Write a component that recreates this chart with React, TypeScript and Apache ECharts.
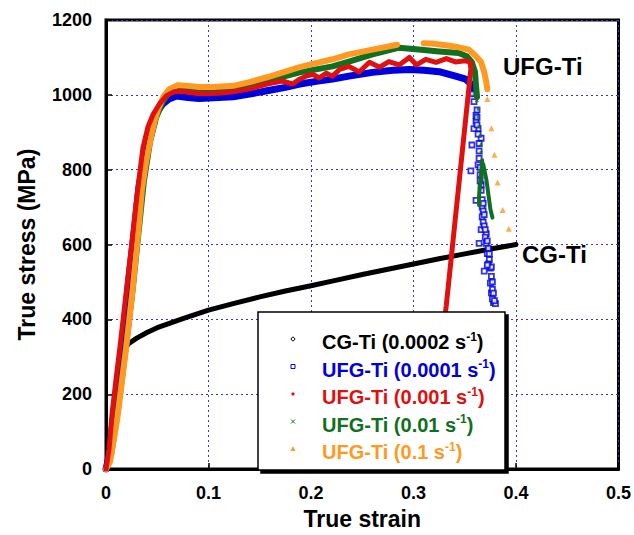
import React, { useEffect, useRef } from "react";
import * as echarts from "echarts";

// [true strain, true stress (MPa)]
const cgTi: number[][] = [
  [0, 0], [0.003, 60], [0.008, 180], [0.013, 270], [0.018, 320], [0.022, 335], [0.03, 350],
  [0.04, 365], [0.05, 378], [0.075, 402], [0.1, 425], [0.125, 443], [0.15, 460], [0.175, 476],
  [0.2, 490], [0.225, 505], [0.25, 520], [0.275, 534], [0.3, 548], [0.325, 562], [0.35, 575],
  [0.375, 588], [0.4, 600],
];

const ufg0001: number[][] = [
  [0, 0], [0.004, 45], [0.008, 130], [0.012, 230], [0.017, 360], [0.022, 500], [0.027, 620],
  [0.032, 750], [0.038, 850], [0.043, 910], [0.049, 950], [0.055, 975], [0.062, 990], [0.069, 997],
  [0.08, 993], [0.091, 990], [0.105, 992], [0.124, 995], [0.14, 1002], [0.157, 1011], [0.175, 1020],
  [0.189, 1029], [0.205, 1036], [0.221, 1042], [0.237, 1050], [0.26, 1060], [0.28, 1066],
  [0.296, 1068], [0.31, 1066], [0.325, 1062], [0.341, 1050], [0.351, 1042], [0.356, 1029], [0.358, 1005],
];
const ufg0001Tail: number[][] = [
  [0.357, 1003], [0.359, 982], [0.361, 945], [0.361, 929], [0.363, 910], [0.359, 910], [0.357, 866],
  [0.366, 884], [0.356, 797], [0.363, 813], [0.365, 787], [0.366, 760], [0.361, 718], [0.367, 700],
  [0.367, 674], [0.366, 640], [0.371, 629], [0.371, 603], [0.364, 603], [0.372, 576], [0.374, 560],
  [0.369, 529], [0.375, 537], [0.375, 497], [0.376, 471], [0.378, 445], [0.38, 442], [0.362, 960],
  [0.363, 895], [0.364, 850], [0.364, 830], [0.365, 806], [0.368, 690], [0.368, 660], [0.369, 650],
  [0.37, 620], [0.373, 590], [0.373, 548], [0.376, 515], [0.377, 480], [0.377, 455],
  [0.362, 940], [0.362, 920], [0.364, 870], [0.365, 770], [0.366, 745], [0.367, 720],
  [0.368, 710], [0.369, 680], [0.37, 640], [0.372, 610], [0.374, 575], [0.376, 540],
  [0.377, 500], [0.378, 470], [0.379, 450], [0.372, 545],
];

const ufg001: number[][] = [
  [0, 0], [0.003, 55], [0.006, 150], [0.01, 245], [0.014, 335], [0.02, 480], [0.025, 600],
  [0.03, 726], [0.036, 858], [0.041, 915], [0.046, 948], [0.052, 975], [0.059, 998], [0.066, 1008],
  [0.075, 1009], [0.091, 1003], [0.11, 1004], [0.124, 1008], [0.14, 1016], [0.157, 1029],
  [0.172, 1037], [0.182, 1029], [0.189, 1042], [0.195, 1050], [0.202, 1055], [0.208, 1045],
  [0.215, 1058], [0.221, 1050], [0.228, 1068], [0.237, 1076], [0.247, 1061], [0.257, 1087],
  [0.267, 1074], [0.276, 1089], [0.286, 1080], [0.296, 1100], [0.303, 1080], [0.312, 1095],
  [0.322, 1087], [0.332, 1097], [0.341, 1088], [0.35, 1091], [0.355, 1088], [0.356, 1070],
  [0.345, 780], [0.332, 437], [0.322, 220], [0.312, 0],
];

const ufg01: number[][] = [
  [0, 0], [0.005, 40], [0.009, 110], [0.014, 210], [0.02, 340], [0.026, 480], [0.032, 640],
  [0.037, 770], [0.043, 875], [0.049, 940], [0.055, 980], [0.062, 1008], [0.069, 1020],
  [0.08, 1018], [0.091, 1011], [0.105, 1011], [0.124, 1016], [0.14, 1025], [0.157, 1037],
  [0.175, 1050], [0.189, 1060], [0.205, 1068], [0.221, 1076], [0.237, 1089], [0.26, 1108],
  [0.286, 1126], [0.305, 1121], [0.325, 1116], [0.344, 1112], [0.352, 1103], [0.357, 1087],
  [0.36, 1061], [0.361, 1024], [0.362, 995],
];
const ufg01TailMarks: number[][] = [
  [0.362, 985], [0.363, 962], [0.363, 940], [0.364, 915], [0.365, 890], [0.366, 866],
  [0.366, 845], [0.367, 826],
];
const ufg01TailA: number[][] = [
  [0.367, 824], [0.366, 790], [0.365, 760], [0.364, 730], [0.364, 705],
];
const ufg01TailB: number[][] = [
  [0.368, 815], [0.371, 775], [0.373, 735], [0.375, 695], [0.377, 672],
];

const ufg1A: number[][] = [
  [0, 0], [0.004, 20], [0.007, 68], [0.011, 135], [0.014, 200], [0.02, 332], [0.026, 480],
  [0.031, 620], [0.035, 745], [0.039, 820], [0.043, 876], [0.047, 925], [0.051, 963],
  [0.056, 995], [0.062, 1016], [0.07, 1026], [0.08, 1024], [0.091, 1021], [0.105, 1021],
  [0.124, 1024], [0.14, 1034], [0.157, 1047], [0.175, 1062], [0.189, 1074], [0.205, 1085],
  [0.221, 1095], [0.237, 1108], [0.26, 1121], [0.284, 1134],
];
const ufg1B: number[][] = [
  [0.31, 1138], [0.318, 1137], [0.335, 1131], [0.344, 1127], [0.354, 1121], [0.361, 1103],
  [0.366, 1087], [0.369, 1061], [0.371, 1034], [0.372, 1015],
];
const ufg1Tail: number[][] = [
  [0.372, 989], [0.376, 911], [0.379, 840], [0.382, 766], [0.387, 692], [0.393, 642],
];

const xTicks = [0, 0.1, 0.2, 0.3, 0.4, 0.5];
const legendItems = [
  { label: "CG-Ti (0.0002 s", color: "#000000", symbol: "circle" },
  { label: "UFG-Ti (0.0001 s", color: "#0000dd", symbol: "square" },
  { label: "UFG-Ti (0.001 s", color: "#e01010", symbol: "dot" },
  { label: "UFG-Ti (0.01 s", color: "#107020", symbol: "cross" },
  { label: "UFG-Ti (0.1 s", color: "#ff9922", symbol: "triangle" },
];

const FONT = "'Liberation Sans', Arial, Helvetica, sans-serif";
const BLACK = "#000000";
const BLUE = "#0000dd";
const RED = "#e01010";
const GREEN = "#107020";
const ORANGE = "#ff9922";
const CROSS = "path://M3,0L5,2L7,0L10,3L7,5L10,7L7,10L5,8L3,10L0,7L3,5L0,3Z";

export default function App() {
  const ref = useRef<HTMLDivElement>(null);
  useEffect(() => {
    if (!ref.current) return;
    const chart = echarts.init(ref.current, null, { renderer: "svg" });

    const line = (name: string, data: number[][], color: string, width: number, z: number) => ({
      name,
      type: "line",
      data,
      showSymbol: false,
      symbol: "none",
      lineStyle: { color, width, cap: "round", join: "round" },
      z,
      silent: true,
    });

    const legendGraphics: any[] = [
      {
        type: "rect",
        shape: { x: 258, y: 312, width: 247, height: 158 },
        style: { fill: "#ffffff", stroke: "#000", lineWidth: 1.5, shadowColor: "#000", shadowOffsetX: 3, shadowOffsetY: 3, shadowBlur: 0 },
        z: 100,
      },
    ];
    legendItems.forEach((it, i) => {
      const y = 342 + i * 27.5;
      const sx = 293;
      if (it.symbol === "circle") {
        legendGraphics.push({ type: "circle", shape: { cx: sx, cy: y - 3, r: 1.8 }, style: { fill: "#fff", stroke: it.color, lineWidth: 1 }, z: 101 });
      } else if (it.symbol === "square") {
        legendGraphics.push({ type: "rect", shape: { x: sx - 2, y: y - 5, width: 4, height: 4 }, style: { fill: "#fff", stroke: it.color, lineWidth: 1 }, z: 101 });
      } else if (it.symbol === "dot") {
        legendGraphics.push({ type: "circle", shape: { cx: sx, cy: y - 3, r: 1.6 }, style: { fill: it.color }, z: 101 });
      } else if (it.symbol === "cross") {
        legendGraphics.push({ type: "line", shape: { x1: sx - 2, y1: y - 5, x2: sx + 2, y2: y - 1 }, style: { stroke: it.color, lineWidth: 1 }, z: 101 });
        legendGraphics.push({ type: "line", shape: { x1: sx + 2, y1: y - 5, x2: sx - 2, y2: y - 1 }, style: { stroke: it.color, lineWidth: 1 }, z: 101 });
      } else {
        legendGraphics.push({ type: "polygon", shape: { points: [[sx, y - 6], [sx + 2.5, y - 1], [sx - 2.5, y - 1]] }, style: { fill: it.color }, z: 101 });
      }
      legendGraphics.push({
        type: "text",
        x: 322,
        y,
        z: 101,
        style: {
          text: `{m|${it.label}}{s|-1}{m|)}`,
          verticalAlign: "middle",
          rich: {
            m: { fontFamily: FONT, fontWeight: "bold", fontSize: 20, fill: it.color, lineHeight: 23 },
            s: { fontFamily: FONT, fontWeight: "bold", fontSize: 12, fill: it.color, verticalAlign: "top", lineHeight: 12 },
          },
        },
      });
    });

    const option: any = {
      animation: false,
      backgroundColor: "#ffffff",
      grid: { left: 106, right: 14, top: 20, bottom: 59, show: true, borderColor: "#000", borderWidth: 3, backgroundColor: "transparent" },
      xAxis: {
        type: "value",
        min: 0,
        max: 0.5,
        interval: 0.1,
        name: "True strain",
        nameLocation: "middle",
        nameGap: 35,
        nameTextStyle: { fontFamily: FONT, fontWeight: "bold", fontSize: 23, color: "#000" },
        axisLine: { show: true, lineStyle: { color: "#000", width: 3 } },
        axisTick: { show: true, inside: true, length: 6, lineStyle: { color: "#000", width: 1.5 } },
        axisLabel: {
          fontFamily: FONT, fontWeight: "bold", fontSize: 18, color: "#000", margin: 15,
          formatter: (v: number) => (xTicks.includes(Math.round(v * 10) / 10) ? String(Math.round(v * 10) / 10) : ""),
        },
        splitLine: { show: true, lineStyle: { color: "#3535e0", width: 1, type: [2, 3] } },
      },
      yAxis: {
        type: "value",
        min: 0,
        max: 1200,
        interval: 200,
        name: "True stress (MPa)",
        nameLocation: "middle",
        nameGap: 68,
        nameTextStyle: { fontFamily: FONT, fontWeight: "bold", fontSize: 23, color: "#000" },
        axisLine: { show: true, lineStyle: { color: "#000", width: 3 } },
        axisTick: { show: true, inside: true, length: 6, lineStyle: { color: "#000", width: 1.5 } },
        axisLabel: { fontFamily: FONT, fontWeight: "bold", fontSize: 18, color: "#000", margin: 14, formatter: (v: number) => String(v) },
        splitLine: { show: true, lineStyle: { color: "#3535e0", width: 1, type: [2, 3] } },
      },
      series: [
        line("CG-Ti (0.0002 s-1)", cgTi, BLACK, 5, 2),
        line("UFG-Ti (0.0001 s-1)", ufg0001, BLUE, 7, 3),
        {
          name: "UFG-Ti (0.0001 s-1) tail",
          type: "scatter",
          data: ufg0001Tail,
          symbol: "rect",
          symbolSize: 5,
          itemStyle: { color: "#ffffff", borderColor: BLUE, borderWidth: 1.8 },
          z: 3,
          silent: true,
        },
        line("UFG-Ti (0.01 s-1)", ufg01, GREEN, 6, 4),
        {
          name: "UFG-Ti (0.01 s-1) tail",
          type: "scatter",
          data: ufg01TailMarks,
          symbol: CROSS,
          symbolSize: 4,
          itemStyle: { color: GREEN },
          z: 4,
          silent: true,
        },
        line("UFG-Ti (0.01 s-1) a", ufg01TailA, GREEN, 4, 4),
        line("UFG-Ti (0.01 s-1) b", ufg01TailB, GREEN, 4, 4),
        line("UFG-Ti (0.1 s-1)", ufg1A, ORANGE, 6, 5),
        line("UFG-Ti (0.1 s-1) b", ufg1B, ORANGE, 6, 5),
        {
          name: "UFG-Ti (0.1 s-1) tail",
          type: "scatter",
          data: ufg1Tail,
          symbol: "triangle",
          symbolSize: 6,
          itemStyle: { color: ORANGE },
          z: 5,
          silent: true,
        },
        line("UFG-Ti (0.001 s-1)", ufg001, RED, 5, 6),
      ],
      graphic: [
        ...legendGraphics,
        {
          type: "text",
          x: 503,
          y: 66,
          z: 50,
          style: { text: "UFG-Ti", fontFamily: FONT, fontWeight: "bold", fontSize: 24, fill: "#000", verticalAlign: "middle" },
        },
        {
          type: "text",
          x: 522,
          y: 254,
          z: 50,
          style: { text: "CG-Ti", fontFamily: FONT, fontWeight: "bold", fontSize: 24, fill: "#000", verticalAlign: "middle" },
        },
      ],
    };
    chart.setOption(option);
    return () => chart.dispose();
  }, []);
  return <div ref={ref} style={{ position: "fixed", left: 0, top: 0, width: 634, height: 535, background: "#fff" }} />;
}
